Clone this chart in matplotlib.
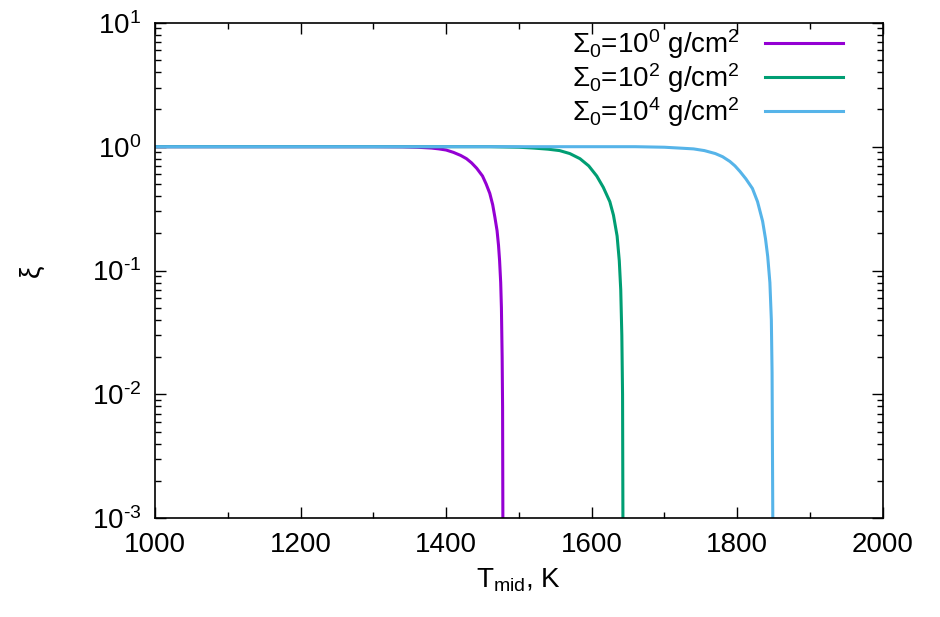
import matplotlib
matplotlib.use("Agg")
import matplotlib.pyplot as plt
from matplotlib.ticker import MultipleLocator, LogLocator, NullFormatter

plt.rcParams['font.family'] = ['Liberation Sans', 'DejaVu Sans']
plt.rcParams['mathtext.fontset'] = 'custom'
plt.rcParams['mathtext.rm'] = 'Liberation Sans'
plt.rcParams['mathtext.it'] = 'Liberation Sans'
plt.rcParams['mathtext.default'] = 'regular'

# values
t_s0 = [1000, 1300, 1340, 1360, 1380, 1390, 1400, 1410, 1420, 1428, 1435, 1442, 1450, 1455,
        1460, 1464, 1467, 1470, 1472, 1473.5, 1475, 1476, 1477, 1477.6, 1478]
xi_s0 = [1.0, 1.0, 0.997, 0.99, 0.975, 0.96, 0.94, 0.90, 0.85, 0.80, 0.74, 0.67, 0.58, 0.50,
         0.42, 0.34, 0.27, 0.21, 0.16, 0.12, 0.08, 0.05, 0.02, 0.008, 0.001]

t_s2 = [1000, 1460, 1480, 1500, 1520, 1540, 1556, 1570, 1584, 1596, 1607, 1616, 1625, 1630,
        1635, 1638, 1640, 1641.5, 1642.5, 1643]
xi_s2 = [1.0, 1.0, 0.995, 0.99, 0.975, 0.955, 0.93, 0.88, 0.80, 0.70, 0.58, 0.47, 0.36, 0.28,
         0.19, 0.12, 0.07, 0.03, 0.01, 0.001]

t_s4 = [1000, 1660, 1680, 1700, 1720, 1740, 1755, 1770, 1780, 1790, 1797, 1804, 1812, 1821,
        1828, 1835, 1839, 1842, 1845, 1847, 1848, 1849]
xi_s4 = [1.0, 1.0, 0.995, 0.99, 0.975, 0.96, 0.93, 0.88, 0.83, 0.76, 0.70, 0.63, 0.55, 0.46,
         0.36, 0.25, 0.18, 0.13, 0.08, 0.04, 0.015, 0.001]

labels = [r'$\Sigma_0$=10$^0$ g/cm$^2$',
          r'$\Sigma_0$=10$^2$ g/cm$^2$',
          r'$\Sigma_0$=10$^4$ g/cm$^2$']
colors = ['#9400d3', '#009e73', '#56b4e9']

x_ticks = [1000, 1200, 1400, 1600, 1800, 2000]
y_ticks = [1e-3, 1e-2, 1e-1, 1e0, 1e1]
y_ticklabels = [r'10$^{\text{-}3}$', r'10$^{\text{-}2}$', r'10$^{\text{-}1}$', r'10$^{0}$', r'10$^{1}$']

fig = plt.figure(figsize=(9.4, 6.17), dpi=100)
ax = fig.add_axes([0.165, 0.160, 0.774, 0.803])

for t, xi, lab, c in zip([t_s0, t_s2, t_s4], [xi_s0, xi_s2, xi_s4], labels, colors):
    ax.plot(t, xi, color=c, lw=2.2, label=lab)

ax.set_yscale('log')
ax.set_xlim(1000, 2000)
ax.set_ylim(1e-3, 1e1)

ax.set_xticks(x_ticks)
ax.xaxis.set_minor_locator(MultipleLocator(100))
ax.set_yticks(y_ticks)
ax.set_yticklabels(y_ticklabels)
ax.yaxis.set_minor_locator(LogLocator(base=10, subs=range(2, 10)))
ax.yaxis.set_minor_formatter(NullFormatter())

ax.tick_params(which='both', direction='in', top=True, right=True, labelsize=20, width=1)
ax.tick_params(which='major', length=8, pad=10)
ax.tick_params(which='minor', length=4)
for s in ax.spines.values():
    s.set_linewidth(1.2)

ax.set_xlabel(r'T$_{mid}$, K', fontsize=20, labelpad=6)
ax.set_ylabel('ξ', fontsize=20, labelpad=34)

ax.legend(loc='upper right', markerfirst=False, frameon=False, fontsize=20,
          handlelength=2.8, labelspacing=0.0, handletextpad=0.9,
          borderaxespad=0.3, bbox_to_anchor=(0.972, 1.03))

fig.savefig('out.png', dpi=100)
